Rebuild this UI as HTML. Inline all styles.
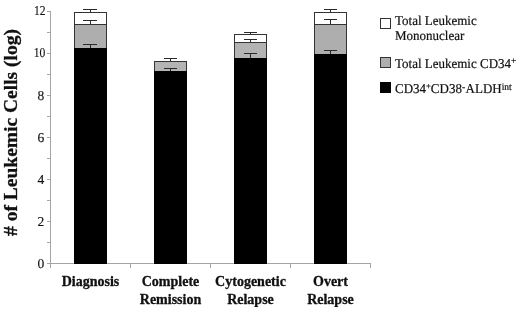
<!DOCTYPE html>
<html><head><meta charset="utf-8">
<style>
html,body{margin:0;padding:0;background:#fff;width:520px;height:310px;overflow:hidden}
svg{display:block;filter:grayscale(1) blur(0.3px)}
text{font-family:"Liberation Serif",serif}
</style></head><body>
<svg width="520" height="310" viewBox="0 0 520 310" xmlns="http://www.w3.org/2000/svg" shape-rendering="crispEdges">
<!-- y axis -->
<g stroke="#a4a4a4" stroke-width="1" fill="none">
<path d="M50.5 11V263.5"/>
<path d="M47 11.5H50M47 32.5H50M47 53.5H50M47 74.5H50M47 95.5H50M47 116.5H50M47 137.5H50M47 158.5H50M47 179.5H50M47 200.5H50M47 221.5H50M47 242.5H50M47 263.5H50"/>
<path d="M50 263.5H371"/>
<path d="M50.5 263V268M130.5 263V268M210.5 263V268M290.5 263V268M370.5 263V268"/>
</g>
<g font-size="13.5" fill="#111" stroke="#111" stroke-width="0.15" text-anchor="end" shape-rendering="auto" text-rendering="geometricPrecision">
<text x="45.6" y="15.2" textLength="11.6" lengthAdjust="spacingAndGlyphs">12</text>
<text x="45.4" y="57" textLength="11.6" lengthAdjust="spacingAndGlyphs">10</text>
<text x="44.3" y="99.5">8</text>
<text x="44.3" y="141.5">6</text>
<text x="44.3" y="183.5">4</text>
<text x="44.3" y="225.5">2</text>
<text x="44.3" y="267.5">0</text>
</g>
<!-- bars -->
<g stroke="#333" stroke-width="1">
<!-- Diagnosis -->
<rect x="74.5" y="12.5" width="32" height="251" fill="#fff"/>
<rect x="74.5" y="24.5" width="32" height="239" fill="#aeaeae"/>
<rect x="74.5" y="48.5" width="32" height="215" fill="#000" stroke="#000"/>
<!-- CR -->
<rect x="154.5" y="61.5" width="32" height="202" fill="#b4b4b4"/>
<rect x="154.5" y="71.5" width="32" height="192" fill="#000" stroke="#000"/>
<!-- Cyto -->
<rect x="234.5" y="34.5" width="32" height="229" fill="#fff"/>
<rect x="234.5" y="42.5" width="32" height="221" fill="#b3b3b3"/>
<rect x="234.5" y="58.5" width="32" height="205" fill="#000" stroke="#000"/>
<!-- Overt -->
<rect x="314.5" y="12.5" width="32" height="251" fill="#fff"/>
<rect x="314.5" y="24.5" width="32" height="239" fill="#aeaeae"/>
<rect x="314.5" y="54.5" width="32" height="209" fill="#000" stroke="#000"/>
</g>
<!-- error bars -->
<g stroke="#2a2a2a" stroke-width="1" fill="none">
<path d="M83 9.5H97M90.5 9.5V12"/>
<path d="M83 20.5H97M90.5 20.5V24"/>
<path d="M83 44.5H97M90.5 44.5V48"/>
<path d="M164 58.5H177M170.5 58.5V61"/>
<path d="M164 68.5H177M170.5 68.5V71"/>
<path d="M244 32.5H257M250.5 32.5V34"/>
<path d="M244 39.5H257M250.5 39.5V42"/>
<path d="M244 53.5H257M250.5 53.5V58"/>
<path d="M324 9.5H337M330.5 9.5V12"/>
<path d="M324 19.5H337M330.5 19.5V24"/>
<path d="M324 50.5H337M330.5 50.5V54"/>
</g>
<!-- x labels -->
<g font-size="14" font-weight="bold" fill="#111" stroke="#111" stroke-width="0.3" text-anchor="middle" shape-rendering="auto">
<text x="90.5" y="286">Diagnosis</text>
<text x="170.5" y="286">Complete</text>
<text x="170.5" y="303.5">Remission</text>
<text x="250.5" y="286">Cytogenetic</text>
<text x="250.5" y="303.5">Relapse</text>
<text x="330.5" y="286">Overt</text>
<text x="330.5" y="303.5">Relapse</text>
</g>
<!-- y title -->
<text transform="translate(17,132.5) rotate(-90)" text-anchor="middle" font-size="19.5" font-weight="bold" fill="#111" stroke="#111" stroke-width="0.3" shape-rendering="auto"># of Leukemic Cells (log)</text>
<!-- legend -->
<g stroke="#333" stroke-width="1">
<rect x="380.5" y="18.5" width="10" height="10" fill="#fff"/>
<rect x="380.5" y="57.5" width="10" height="10" fill="#aeaeae"/>
<rect x="380.5" y="82.5" width="10" height="10" fill="#000" stroke="#000"/>
</g>
<g font-size="13" fill="#111" stroke="#111" stroke-width="0.2" shape-rendering="auto" text-rendering="geometricPrecision">
<text transform="translate(395,25) scale(1,1.04)">Total Leukemic</text>
<text transform="translate(395,40.3) scale(1,1.04)">Mononuclear</text>
<text transform="translate(395,67.7) scale(1,1.04)">Total Leukemic CD34<tspan font-size="9.5" dy="-4">+</tspan></text>
<text transform="translate(395,93.2) scale(1,1.04)">CD34<tspan font-size="8.5" dy="-4">+</tspan><tspan dy="4">CD38</tspan><tspan font-size="9.5" dy="-3">-</tspan><tspan dx="0.5" dy="3">ALDH</tspan><tspan font-size="9.5" dy="-3.3">int</tspan></text>
</g>
</svg>
</body></html>
